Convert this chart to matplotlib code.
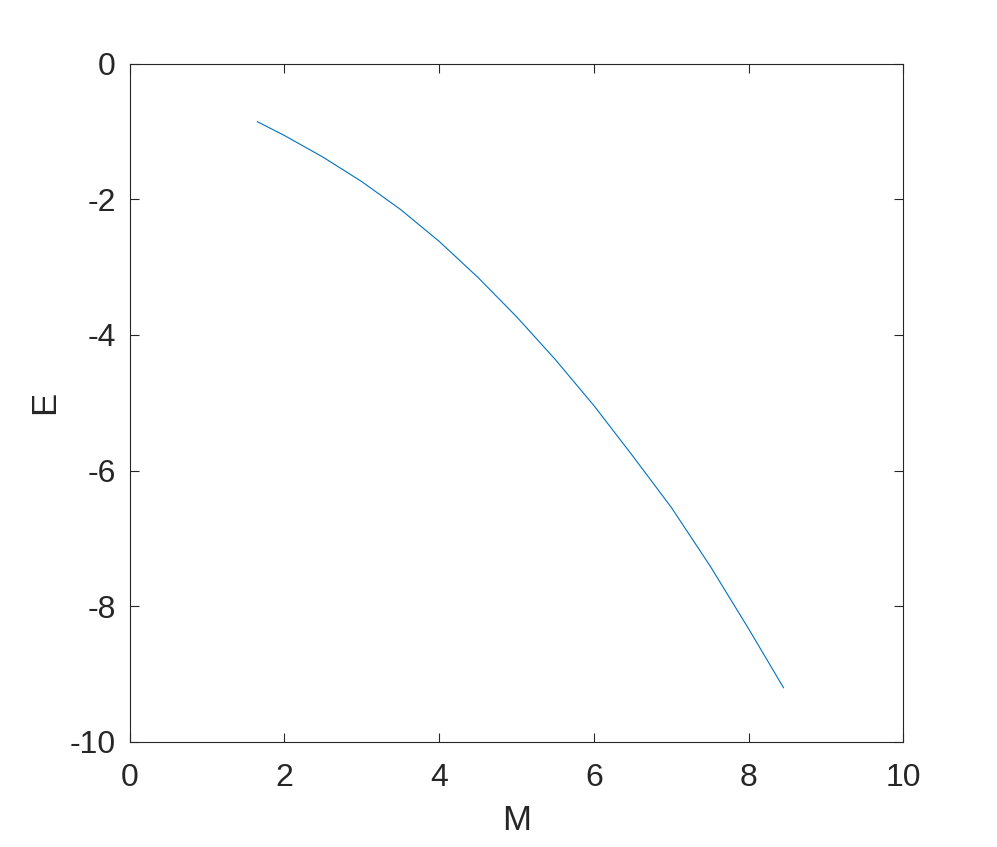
import matplotlib
matplotlib.use("Agg")
import matplotlib.pyplot as plt

# curve values
M = [1.652, 2.0, 2.5, 3.0, 3.5, 4.0, 4.5, 5.0, 5.5, 6.0, 6.5, 7.0, 7.5, 8.0, 8.452]
E = [-0.858, -1.06, -1.38, -1.74, -2.15, -2.62, -3.15, -3.73, -4.36, -5.04,
     -5.78, -6.54, -7.40, -8.33, -9.20]

xticks = [0, 2, 4, 6, 8, 10]
yticks = [0, -2, -4, -6, -8, -10]

plt.rcParams['font.family'] = ['Liberation Sans', 'DejaVu Sans']
plt.rcParams['axes.unicode_minus'] = False
fg = '#262626'

fig = plt.figure(figsize=(9.97, 8.47), dpi=100)
ax = fig.add_axes([0.130, 0.124, 0.776, 0.801])
ax.plot(M, E, '-', color='#0072BD', lw=0.8)
ax.set_xlim(0, 10); ax.set_ylim(-10, 0)
ax.set_xticks(xticks); ax.set_yticks(yticks)
ax.tick_params(direction='in', top=True, right=True, length=6.5, width=0.8,
               colors=fg, labelsize=23)
ax.tick_params(axis='y', pad=10)
ax.tick_params(axis='x', pad=15)
for s in ax.spines.values():
    s.set_color(fg); s.set_linewidth(0.8)
ax.set_xlabel("M", fontsize=25, color=fg, labelpad=8)
ax.set_ylabel("E", fontsize=25, color=fg, labelpad=6)
fig.savefig("out.png", dpi=100)
